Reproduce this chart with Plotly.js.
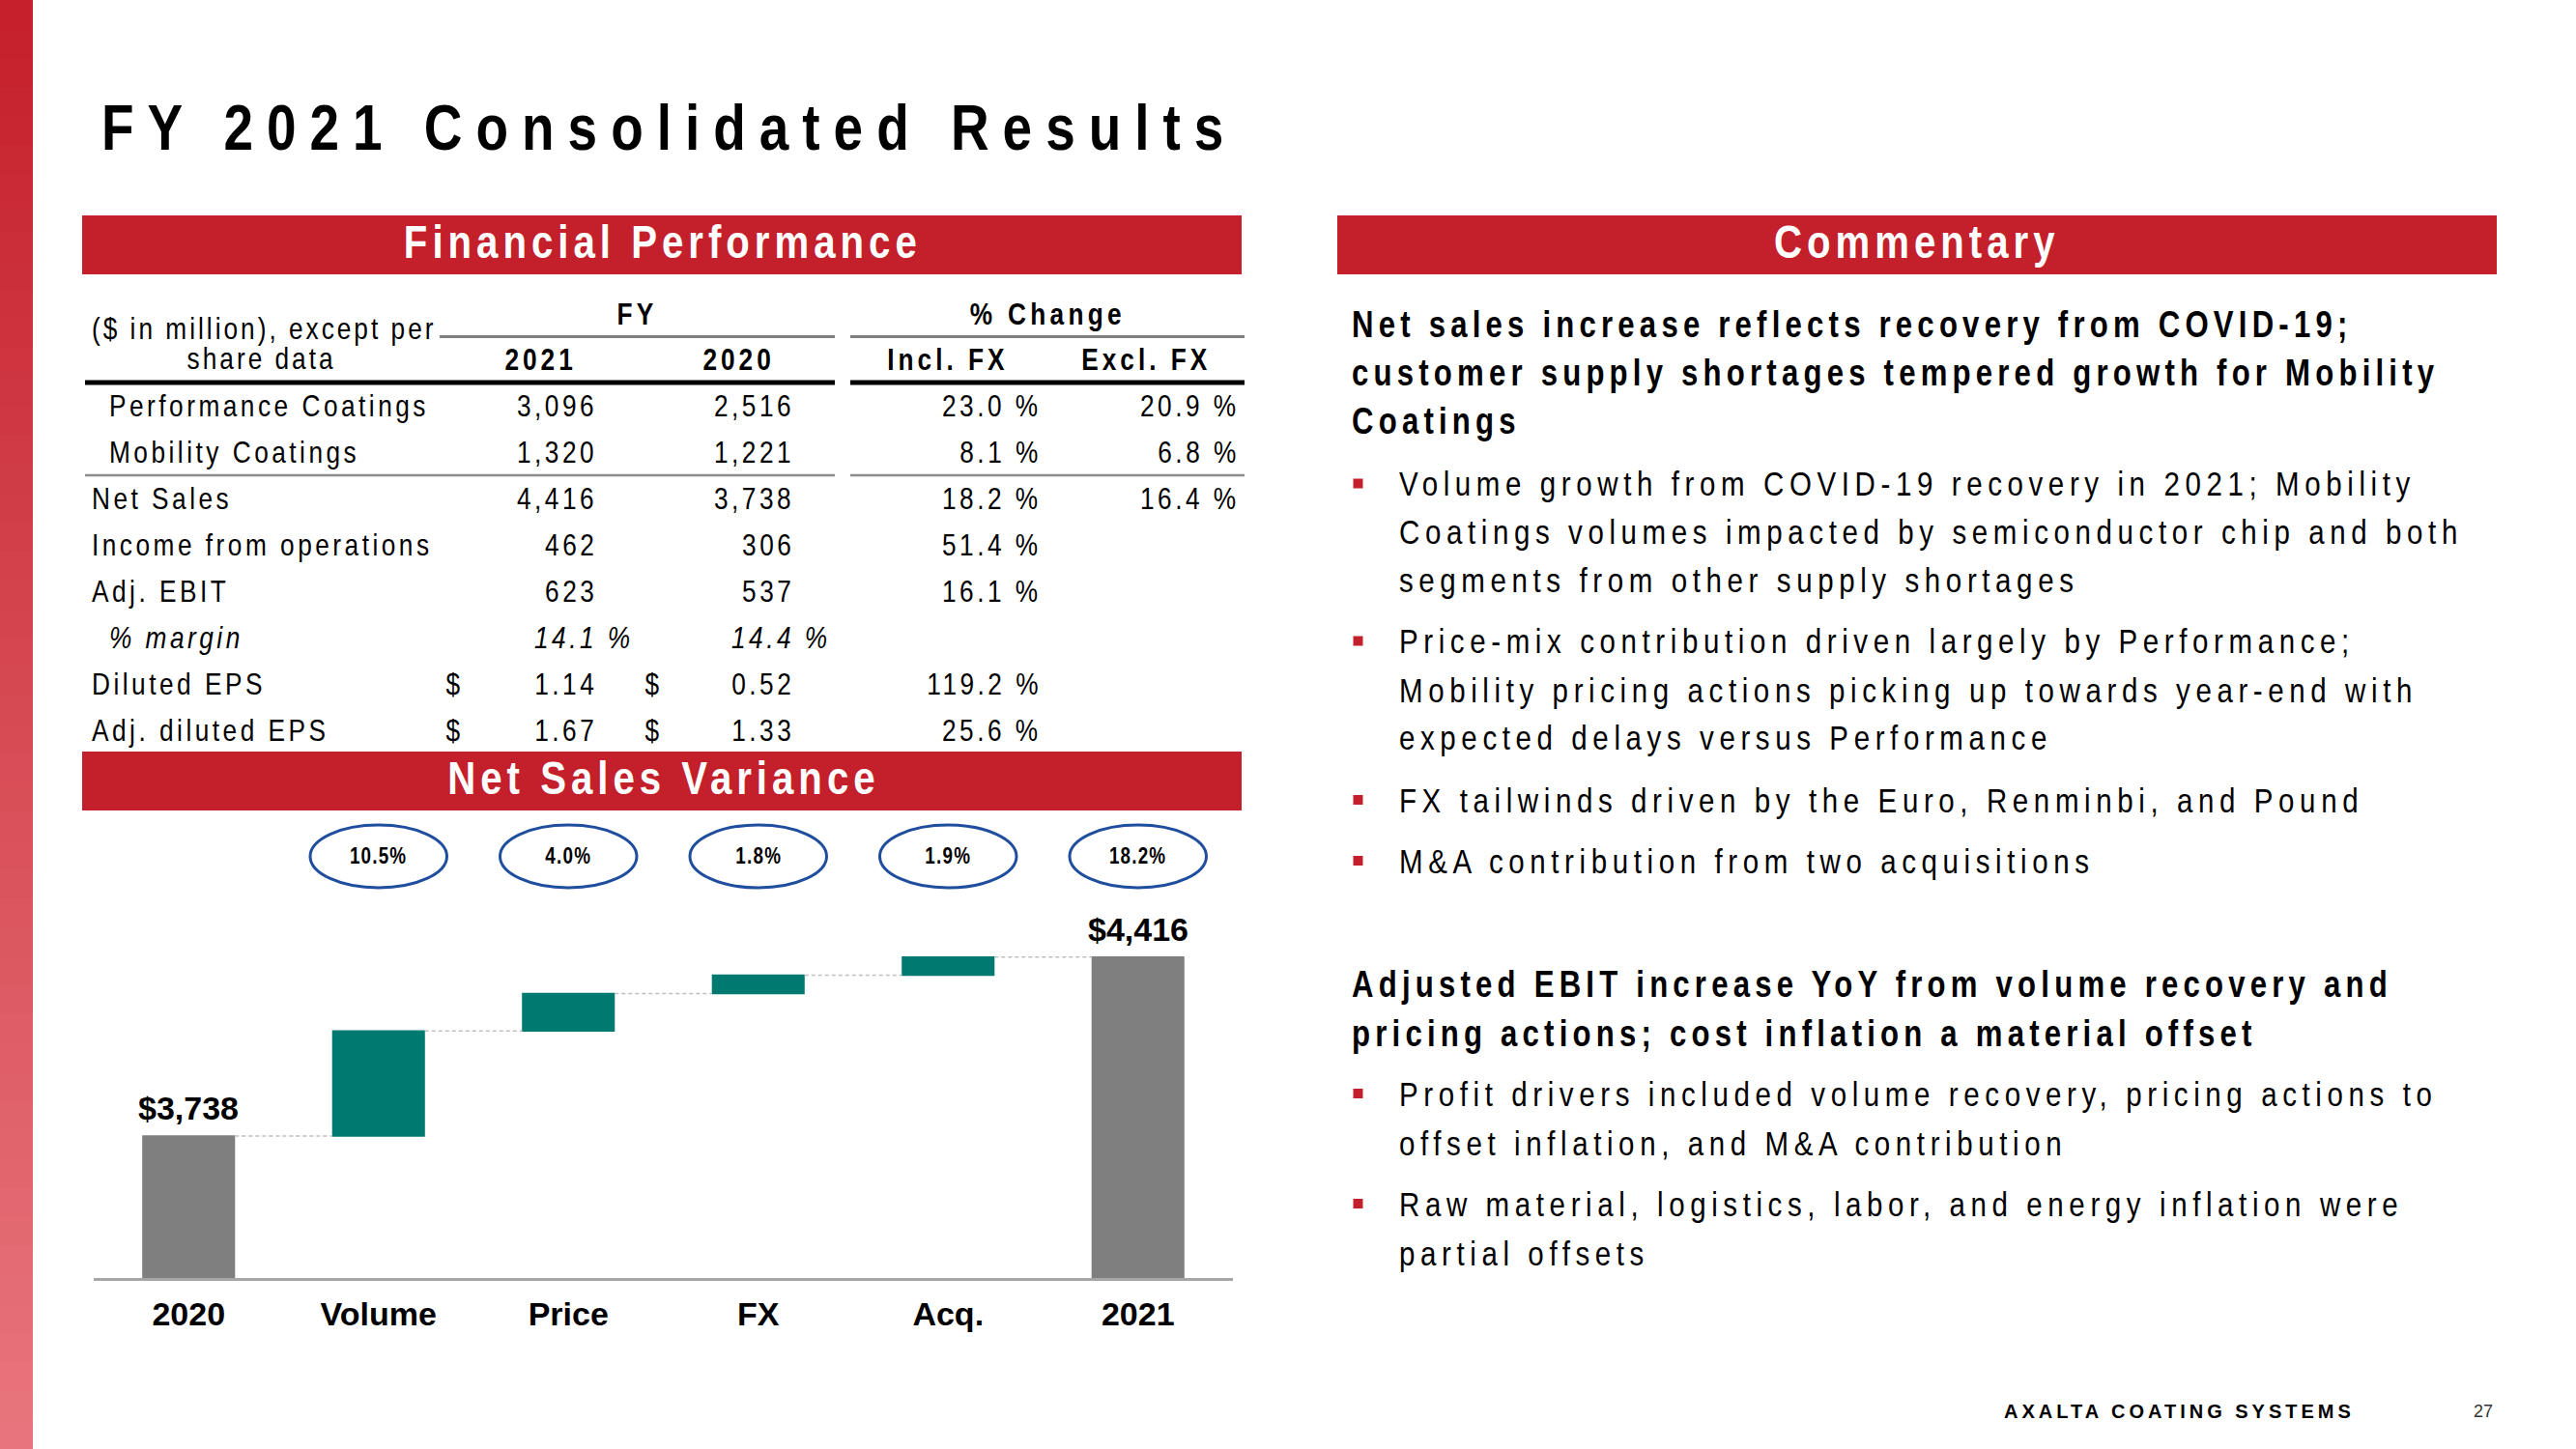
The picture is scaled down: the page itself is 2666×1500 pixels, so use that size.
<!DOCTYPE html>
<html>
<head>
<meta charset="utf-8">
<script src="https://cdn.plot.ly/plotly-3.0.1.min.js"></script>
<style>
html,body{margin:0;padding:0;background:#fff;}
#chart{width:2666px;height:1500px;}
</style>
</head>
<body>
<div id="chart"></div>
<script>
// ---------------- DATA ----------------
const slideTitle = 'FY 2021 Consolidated Results';
const bannerTitles = ['Financial Performance', 'Commentary', 'Net Sales Variance'];

const tableUnitsLabel = ['($ in million), except per', 'share data'];
const tableGroupHeaders = ['FY', '% Change'];
const tableColHeaders = ['2021', '2020', 'Incl. FX', 'Excl. FX'];
const tableRowLabels = ['Performance Coatings', 'Mobility Coatings', 'Net Sales', 'Income from operations',
  'Adj. EBIT', '% margin', 'Diluted EPS', 'Adj. diluted EPS'];
const tableRowKind = ['num', 'num', 'num', 'num', 'num', 'pct', 'eps', 'eps'];
const fy2021 = [3096, 1320, 4416, 462, 623, 14.1, 1.14, 1.67];
const fy2020 = [2516, 1221, 3738, 306, 537, 14.4, 0.52, 1.33];
const chgInclFX = [23.0, 8.1, 18.2, 51.4, 16.1, null, 119.2, 25.6];
const chgExclFX = [20.9, 6.8, 16.4, null, null, null, null, null];

const wfCategories = ['2020', 'Volume', 'Price', 'FX', 'Acq.', '2021'];
const wfMeasures = ['absolute', 'relative', 'relative', 'relative', 'relative', 'total'];
const wfValues = [3738, 398, 142, 69, 69, 0];
const wfPctLabels = [null, '10.5%', '4.0%', '1.8%', '1.9%', '18.2%'];
const wfTotalLabels = ['$3,738', null, null, null, null, '$4,416'];

const heading1Lines = ['Net sales increase reflects recovery from COVID-19;',
  'customer supply shortages tempered growth for Mobility', 'Coatings'];
const bullets1 = [
  ['Volume growth from COVID-19 recovery in 2021; Mobility',
   'Coatings volumes impacted by semiconductor chip and both',
   'segments from other supply shortages'],
  ['Price-mix contribution driven largely by Performance;',
   'Mobility pricing actions picking up towards year-end with',
   'expected delays versus Performance'],
  ['FX tailwinds driven by the Euro, Renminbi, and Pound'],
  ['M&A contribution from two acquisitions']
];
const heading2Lines = ['Adjusted EBIT increase YoY from volume recovery and',
  'pricing actions; cost inflation a material offset'];
const bullets2 = [
  ['Profit drivers included volume recovery, pricing actions to',
   'offset inflation, and M&A contribution'],
  ['Raw material, logistics, labor, and energy inflation were',
   'partial offsets']
];
const footerText = 'AXALTA COATING SYSTEMS';
const pageNumber = '27';

// ---------------- LAYOUT HELPERS ----------------
const W = 2666, H = 1500;
const fx = x => x / W;
const fy = y => 1 - y / H;
const SANS = "'Liberation Sans', Arial, sans-serif";
const NARROW_SCALE = 0.82;   // condensed look (Arial Narrow style)
const RED = '#C4202B';

const annotations = [];
const spacing = [];
const narrowFlag = [];
const shapes = [];

function addText(text, x, y, o) {
  o = o || {};
  const anchor = o.anchor || 'left';
  const ls = o.ls || 0;
  const narrow = o.narrow !== false;
  let xx = x;
  if (!o.xref) {
    if (anchor === 'right') xx += ls;
    if (anchor === 'center') xx += ls / 2;
    xx = fx(xx);
  }
  annotations.push({
    text: text, xref: o.xref || 'paper', yref: 'paper', x: xx, y: o.yraw !== undefined ? o.yraw : fy(y),
    xanchor: anchor, yanchor: 'middle', align: anchor, showarrow: false, borderpad: 0,
    font: {family: SANS, size: o.size || 32, color: o.color || '#000',
           weight: o.bold ? 'bold' : 'normal', style: o.italic ? 'italic' : 'normal'}
  });
  spacing.push(narrow ? ls / NARROW_SCALE : ls);
  narrowFlag.push(narrow ? anchor : null);
}
function hline(x0, x1, y, w, c) {
  shapes.push({type: 'line', xref: 'paper', yref: 'paper', x0: fx(x0), x1: fx(x1), y0: fy(y), y1: fy(y),
    line: {color: c, width: w}});
}
function rect(x0, x1, y0, y1, c) {
  shapes.push({type: 'rect', xref: 'paper', yref: 'paper', x0: fx(x0), x1: fx(x1), y0: fy(y1), y1: fy(y0),
    fillcolor: c, line: {width: 0}, layer: 'below'});
}

// left gradient strip
const c0 = [197, 32, 43], c1 = [232, 117, 125];
for (let i = 0; i < 50; i++) {
  const t = i / 49;
  const c = c0.map((v, k) => Math.round(v + (c1[k] - v) * t));
  rect(0, 34, i * 30, (i + 1) * 30 + 1, `rgb(${c[0]},${c[1]},${c[2]})`);
}

// title
addText(slideTitle, 104, 132, {size: 67, bold: true, ls: 14});

// banners
rect(85, 1285, 223, 284, RED);
rect(1384, 2584, 223, 284, RED);
rect(85, 1285, 778, 839, RED);
addText(bannerTitles[0], 683, 250, {size: 49, bold: true, color: '#fff', anchor: 'center', ls: 5});
addText(bannerTitles[1], 1981, 250, {size: 49, bold: true, color: '#fff', anchor: 'center', ls: 5});
addText(bannerTitles[2], 684, 805, {size: 49, bold: true, color: '#fff', anchor: 'center', ls: 5});

// ---------------- TABLE ----------------
hline(455, 864, 348.5, 3, '#808080');
hline(880, 1288, 348.5, 3, '#808080');
hline(88, 864, 396, 5, '#000');
hline(880, 1288, 396, 5, '#000');
hline(88, 864, 492, 2.5, '#8C8C8C');
hline(880, 1288, 492, 2.5, '#8C8C8C');

addText(tableUnitsLabel[0], 94, 340, {ls: 3});
addText(tableUnitsLabel[1], 269, 371, {anchor: 'center', ls: 3});
addText(tableGroupHeaders[0], 657, 325, {bold: true, anchor: 'center', ls: 4.3});
addText(tableGroupHeaders[1], 1082, 325, {bold: true, anchor: 'center', ls: 4.3});
const colHeadX = [557, 762, 979, 1184];
tableColHeaders.forEach((h, i) => addText(h, colHeadX[i], 372, {bold: true, anchor: 'center', ls: 4}));

const rowY = [420, 468, 516, 564, 612, 660, 708, 756];
const indented = [true, true, false, false, false, true, false, false];
const fmtNum = v => v.toLocaleString('en-US');
function fmtCell(v, kind) {
  if (v === null) return null;
  if (kind === 'pct') return v.toFixed(1) + ' %';
  if (kind === 'eps') return v.toFixed(2);
  return fmtNum(v);
}
tableRowLabels.forEach((lab, i) => {
  const y = rowY[i];
  const kind = tableRowKind[i];
  const it = kind === 'pct';
  addText(lab, indented[i] ? 112 : 94, y, {ls: 3.5, italic: it});
  const a = fmtCell(fy2021[i], kind), b = fmtCell(fy2020[i], kind);
  addText(a, it ? 653 : 615, y, {anchor: 'right', ls: 3.5, italic: it});
  addText(b, it ? 857 : 819, y, {anchor: 'right', ls: 3.5, italic: it});
  if (kind === 'eps') {
    addText('$', 469, y, {anchor: 'center'});
    addText('$', 675, y, {anchor: 'center'});
  }
  if (chgInclFX[i] !== null) addText(chgInclFX[i].toFixed(1) + ' %', 1075, y, {anchor: 'right', ls: 3.5});
  if (chgExclFX[i] !== null) addText(chgExclFX[i].toFixed(1) + ' %', 1280, y, {anchor: 'right', ls: 3.5});
});

// ---------------- WATERFALL LABELS ----------------
let running = 0;
wfCategories.forEach((cat, i) => {
  if (wfMeasures[i] === 'absolute') running = wfValues[i];
  else if (wfMeasures[i] === 'relative') running += wfValues[i];
  if (wfTotalLabels[i]) {
    annotations.push({xref: 'x', yref: 'y', x: i, y: running, text: wfTotalLabels[i], yanchor: 'bottom',
      yshift: 9, showarrow: false, borderpad: 0,
      font: {family: SANS, size: 34, color: '#000', weight: 'bold'}});
    spacing.push(0);
    narrowFlag.push(null);
  }
  if (wfPctLabels[i]) {
    shapes.push({type: 'circle', xref: 'x', yref: 'paper', x0: i - 0.36, x1: i + 0.36,
      y0: fy(919), y1: fy(854), line: {color: '#1F4E9E', width: 3}, fillcolor: 'rgba(0,0,0,0)'});
    addText(wfPctLabels[i], i, 886, {xref: 'x', size: 23, bold: true, anchor: 'center', ls: 1.2});
  }
});

// ---------------- COMMENTARY ----------------
const h1Y = [336.5, 386, 435.5];
const b1Y = [[500.5, 551, 600.5], [663.5, 714, 763.5], [828], [891]];
const h2Y = [1018.5, 1069.5];
const b2Y = [[1132, 1183], [1246, 1297]];
function heading(lines, ys) {
  lines.forEach((l, i) => addText(l, 1398, ys[i], {size: 38, bold: true, ls: 5.2}));
}
function bullets(list, ys) {
  list.forEach((lines, k) => {
    rect(1400.5, 1410.5, ys[k][0] - 5, ys[k][0] + 5, RED);
    lines.forEach((l, i) => addText(l, 1447, ys[k][i], {size: 36, ls: 5.6}));
  });
}
heading(heading1Lines, h1Y);
bullets(bullets1, b1Y);
heading(heading2Lines, h2Y);
bullets(bullets2, b2Y);

// footer
addText(footerText, 2073, 1461, {size: 20, bold: true, ls: 4, narrow: false});
addText(pageNumber, 2570, 1461, {size: 18, anchor: 'center', color: '#333', narrow: false});

// letter spacing + condensed glyphs via CSS
let css = '';
spacing.forEach((s, i) => {
  let rule = '';
  if (s) rule += `letter-spacing:${s.toFixed(2)}px;`;
  const nf = narrowFlag[i];
  if (nf) rule += `transform-box:fill-box;transform-origin:${nf} center;transform:scaleX(${NARROW_SCALE});`;
  if (rule) css += `g.annotation[data-index="${i}"] text.annotation-text{${rule}}\n`;
});
const st = document.createElement('style');
st.textContent = css;
document.head.appendChild(st);

// ---------------- PLOT ----------------
const trace = {
  type: 'waterfall', x: wfCategories, y: wfValues, measure: wfMeasures,
  increasing: {marker: {color: '#007A70'}},
  decreasing: {marker: {color: '#C00000'}},
  totals: {marker: {color: '#7F7F7F'}},
  connector: {mode: 'between', line: {color: '#BFBFBF', width: 1.5, dash: '4px,3px'}},
  textinfo: 'none', hoverinfo: 'skip', showlegend: false
};

const layout = {
  width: W, height: H, margin: {l: 0, r: 0, t: 0, b: 0},
  paper_bgcolor: '#ffffff', plot_bgcolor: 'rgba(0,0,0,0)',
  showlegend: false, waterfallgap: 0.511,
  xaxis: {domain: [fx(97), fx(1276)], type: 'category', showline: true, linecolor: '#A6A6A6', linewidth: 2.5,
    showgrid: false, zeroline: false, ticks: '', ticklabelstandoff: 6, fixedrange: true,
    tickfont: {family: SANS, size: 34, color: '#000', weight: 'bold'}},
  yaxis: {domain: [fy(1323), fy(850)], range: [3200, 4931], visible: false, fixedrange: true},
  shapes: shapes, annotations: annotations
};

Plotly.newPlot('chart', [trace], layout, {staticPlot: true, displayModeBar: false});
</script>
</body>
</html>
